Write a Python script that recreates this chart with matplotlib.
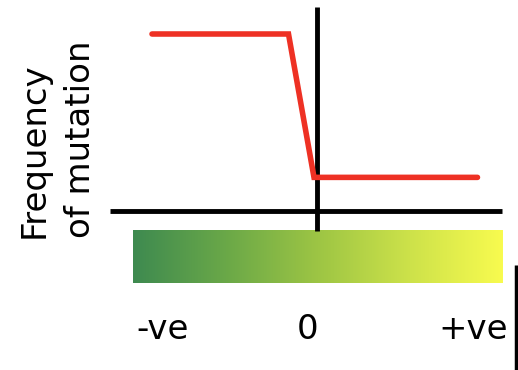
import matplotlib.pyplot as plt
import numpy as np
from matplotlib.colors import LinearSegmentedColormap

plt.rcParams['font.family'] = 'DejaVu Sans'

# Date: frecventa mutatiei in functie de efectul (fitness)
effect = [-1.1, -0.19, -0.02, 1.07]
mutation_freq = [1.0, 1.0, 0.19, 0.19]

tick_pos = [-1.03, -0.06, 1.04]
tick_labels = ["-ve", "0", "+ve"]

grad_colors = ["#3e8a50", "#6aa848", "#9dc544", "#cde24a", "#f8fb4f"]

fig = plt.figure(figsize=(5.18, 3.70), dpi=100)
ax = fig.add_axes([0, 0, 1, 1])
ax.set_xlim(-317 / 150, (518 - 317) / 150)
ax.set_ylim(-(370 - 211) / 177, 211 / 177)
ax.axis('off')

# Bara cu gradient
cmap = LinearSegmentedColormap.from_list("effect", grad_colors)
grad = np.linspace(0, 1, 256).reshape(1, -1)
ax.imshow(grad, cmap=cmap, aspect='auto', extent=[-1.227, 1.233, -0.407, -0.113], zorder=1)

# Axe
ax.plot([-1.38, 1.233], [0, 0], color='black', lw=3.5, solid_capstyle='butt', zorder=2)
ax.plot([0, 0], [-0.113, 1.155], color='black', lw=3.5, solid_capstyle='butt', zorder=2)

# Linia rosie
ax.plot(effect, mutation_freq, color='#ee3124', lw=4, solid_capstyle='round',
        solid_joinstyle='miter', zorder=3)

for x, lab in zip(tick_pos, tick_labels):
    ax.text(x, -0.667, lab, ha='center', va='center', fontsize=24.5)

ax.text(-1.733, -0.153, "Frequency\nof mutation", rotation=90, ha='center', va='bottom',
        multialignment='left', fontsize=24.5, linespacing=1.5)

# Linie mica din dreapta jos
ax.plot([1.327, 1.327], [-0.305, -0.898], color='black', lw=2.5, solid_capstyle='butt')

plt.savefig("out.png", dpi=100)
